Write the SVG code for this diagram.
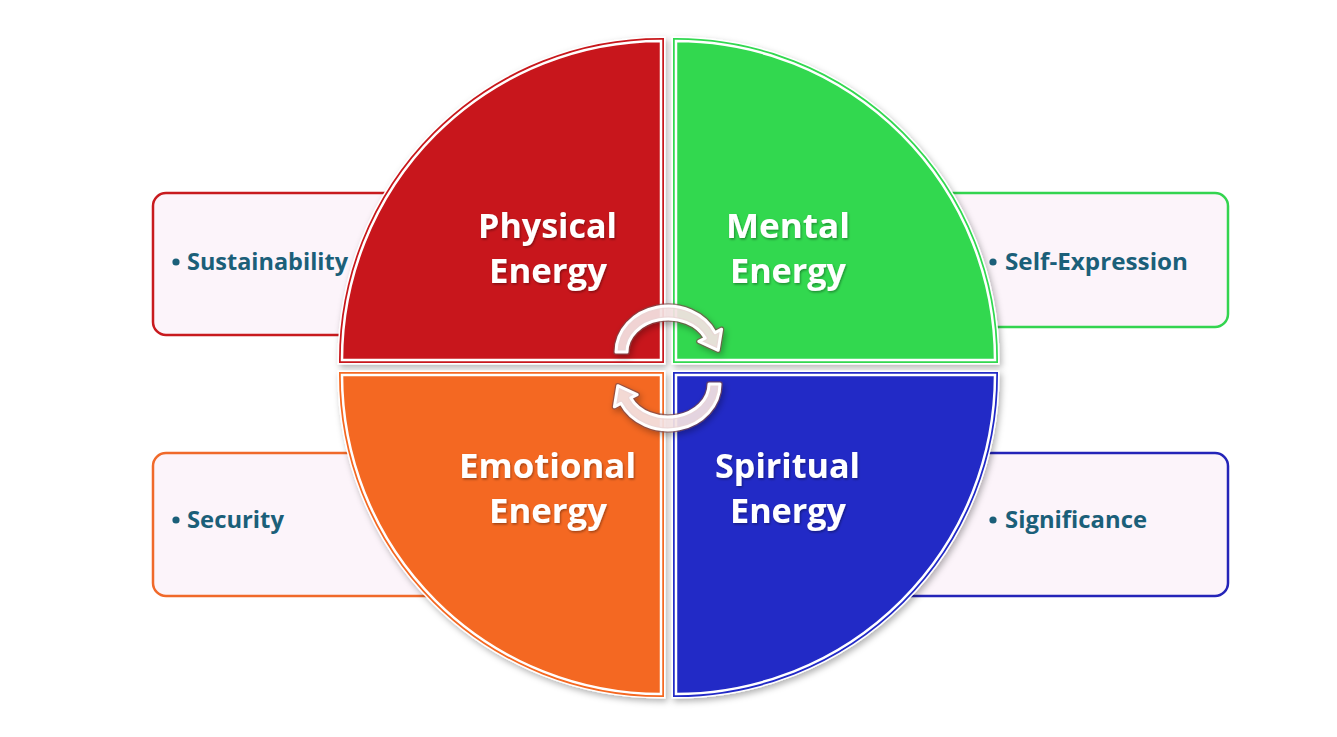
<svg xmlns="http://www.w3.org/2000/svg" xmlns:xlink="http://www.w3.org/1999/xlink" width="1337" height="737" viewBox="0 0 1337 737">
<style>
.box{fill:#fcf4fa;stroke-width:2.5}
.btxt{font-family:"Open Sans","Liberation Sans",sans-serif;font-weight:bold;font-size:23px;fill:#1b5f79}
.bul{fill:#1b5f79}
.ttl{font-family:"Open Sans","Liberation Sans",sans-serif;font-weight:bold;font-size:34px;fill:#ffffff}
.halo{fill:none;stroke:#ffffff;stroke-width:9;stroke-linejoin:miter}
.inner{stroke:#ffffff;stroke-width:2.5;stroke-linejoin:miter}
.arr{fill:#f6e4e4;fill-opacity:0.9;stroke:#ffffff;stroke-width:3;stroke-linejoin:round}
.arrline{fill:none;stroke:#7a4a4a;stroke-opacity:0.7;stroke-width:5.5;stroke-linejoin:round}
</style>
<defs>
<filter id="sh" x="-10%" y="-10%" width="120%" height="120%">
<feDropShadow dx="2" dy="3" stdDeviation="3" flood-color="#000" flood-opacity="0.3"/>
</filter>
<filter id="tsh" x="-10%" y="-20%" width="120%" height="140%">
<feDropShadow dx="1" dy="1.5" stdDeviation="1" flood-color="#000" flood-opacity="0.35"/>
</filter>
<path id="arrow" d="M-52,0 A52,46 0 0 1 47.1,-19.4 L53.6,-22.8 L50.2,-1.7 L30.8,-10.6 L37.2,-13.9 A41,33 0 0 0 -41,0 Z"/>
</defs>
<rect width="1337" height="737" fill="#ffffff"/>

<g id="box-sustainability">
<rect class="box" x="153" y="193" width="300" height="142" rx="13" stroke="#c81a1e"/>
<circle class="bul" cx="176" cy="262" r="3.6"/>
<text class="btxt" x="187" y="270" textLength="161" lengthAdjust="spacingAndGlyphs">Sustainability</text>
</g>
<g id="box-selfexpression">
<rect class="box" x="890" y="193" width="338" height="134" rx="13" stroke="#33d44f"/>
<circle class="bul" cx="993" cy="262" r="3.6"/>
<text class="btxt" x="1005" y="270" textLength="183" lengthAdjust="spacingAndGlyphs">Self-Expression</text>
</g>
<g id="box-security">
<rect class="box" x="153" y="453" width="320" height="143" rx="13" stroke="#f0692a"/>
<circle class="bul" cx="176" cy="520" r="3.6"/>
<text class="btxt" x="187" y="528" textLength="97" lengthAdjust="spacingAndGlyphs">Security</text>
</g>
<g id="box-significance">
<rect class="box" x="870" y="453" width="358" height="143" rx="13" stroke="#2424b8"/>
<circle class="bul" cx="993" cy="520" r="3.6"/>
<text class="btxt" x="1005" y="528" textLength="142" lengthAdjust="spacingAndGlyphs">Significance</text>
</g>

<g id="physical">
<g filter="url(#sh)">
<path class="halo" d="M661,360 L342,360 A319,319 0 0 1 661,41 Z"/>
<path d="M661,360 L342,360 A319,319 0 0 1 661,41 Z" fill="none" stroke="#c8181b" stroke-width="6"/>
<path class="inner" d="M661,360 L342,360 A319,319 0 0 1 661,41 Z" fill="#c8181b"/>
</g>
<g filter="url(#tsh)">
<text class="ttl" x="478" y="238" textLength="139" lengthAdjust="spacingAndGlyphs">Physical</text>
<text class="ttl" x="489" y="283" textLength="118" lengthAdjust="spacingAndGlyphs">Energy</text>
</g>
</g>
<g id="mental">
<g filter="url(#sh)">
<path class="halo" d="M676,360 L676,41 A319,319 0 0 1 995,360 Z"/>
<path d="M676,360 L676,41 A319,319 0 0 1 995,360 Z" fill="none" stroke="#30d850" stroke-width="6"/>
<path class="inner" d="M676,360 L676,41 A319,319 0 0 1 995,360 Z" fill="#30d850"/>
</g>
<g filter="url(#tsh)">
<text class="ttl" x="726" y="238" textLength="124" lengthAdjust="spacingAndGlyphs">Mental</text>
<text class="ttl" x="730" y="283" textLength="116" lengthAdjust="spacingAndGlyphs">Energy</text>
</g>
</g>
<g id="emotional">
<g filter="url(#sh)">
<path class="halo" d="M661,375 L661,694 A319,319 0 0 1 342,375 Z"/>
<path d="M661,375 L661,694 A319,319 0 0 1 342,375 Z" fill="none" stroke="#f46821" stroke-width="6"/>
<path class="inner" d="M661,375 L661,694 A319,319 0 0 1 342,375 Z" fill="#f46821"/>
</g>
<g filter="url(#tsh)">
<text class="ttl" x="459" y="478" textLength="177" lengthAdjust="spacingAndGlyphs">Emotional</text>
<text class="ttl" x="489" y="523" textLength="118" lengthAdjust="spacingAndGlyphs">Energy</text>
</g>
</g>
<g id="spiritual">
<g filter="url(#sh)">
<path class="halo" d="M676,375 L995,375 A319,319 0 0 1 676,694 Z"/>
<path d="M676,375 L995,375 A319,319 0 0 1 676,694 Z" fill="none" stroke="#2229c6" stroke-width="6"/>
<path class="inner" d="M676,375 L995,375 A319,319 0 0 1 676,694 Z" fill="#2229c6"/>
</g>
<g filter="url(#tsh)">
<text class="ttl" x="715" y="478" textLength="145" lengthAdjust="spacingAndGlyphs">Spiritual</text>
<text class="ttl" x="730" y="523" textLength="116" lengthAdjust="spacingAndGlyphs">Energy</text>
</g>
</g>

<g id="connectors" filter="url(#sh)">
<g transform="translate(668,352)">
<use xlink:href="#arrow" class="arrline"/>
<use xlink:href="#arrow" class="arr"/>
</g>
<g transform="rotate(180 668 368) translate(668,352)">
<use xlink:href="#arrow" class="arrline"/>
<use xlink:href="#arrow" class="arr"/>
</g>
</g>
</svg>
